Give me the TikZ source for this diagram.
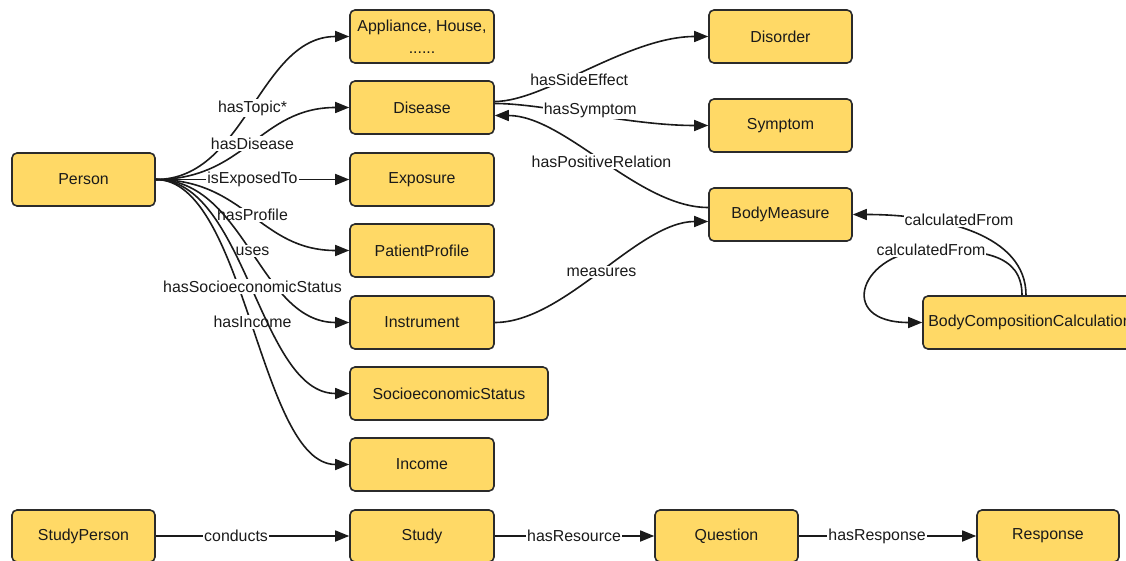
\documentclass[tikz,border=0pt]{standalone}
\usepackage{fontspec}
\setmainfont{Liberation Sans}
\usetikzlibrary{arrows.meta,calc}
\definecolor{boxfill}{HTML}{FFD966}
\definecolor{boxline}{HTML}{2B2B2B}
\definecolor{ink}{HTML}{1A1A1A}

\begin{document}
\begin{tikzpicture}[x=1pt,y=-1pt,
  every node/.style={font=\fontsize{15.9}{20}\selectfont, text=ink},
  entity/.style={draw=boxline, fill=boxfill, line width=1.6pt, rounded corners=5pt,
    minimum width=143pt, minimum height=53pt, inner sep=0pt},
  rel/.style={draw=ink, line width=1.6pt, -{Triangle[length=14pt,width=11pt]}},
  lbl/.style={fill=white, inner xsep=1pt, inner ysep=1.5pt}
]
\clip (0,0) rectangle (1126,561);
\fill[white] (0,0) rectangle (1126,561);

% ---------- entities ----------
\node[entity] (person) at (83.5,179.5) {Person};
\node[entity, minimum width=144pt, align=center] (topic) at (422,36.5) {Appliance, House,\\[2pt]......};
\node[entity, minimum width=144pt] (disease) at (422,107.5) {Disease};
\node[entity, minimum width=144pt] (exposure) at (422,179.5) {Exposure};
\node[entity, minimum width=144pt] (profile) at (422,250.5) {PatientProfile};
\node[entity, minimum width=144pt] (instrument) at (422,322.5) {Instrument};
\node[entity, minimum width=198pt] (ses) at (449,393.5) {SocioeconomicStatus};
\node[entity, minimum width=144pt] (income) at (422,464.5) {Income};

\node[entity] (disorder) at (780.5,36.5) {Disorder};
\node[entity] (symptom) at (780.5,125.5) {Symptom};
\node[entity] (bodym) at (780.5,214.5) {BodyMeasure};
\node[entity, minimum width=214pt] (bcc) at (1030,322.5) {BodyCompositionCalculation};

\node[entity, minimum height=52pt] (studyp) at (83.5,536) {StudyPerson};
\node[entity, minimum width=144pt, minimum height=52pt] (study) at (422,536) {Study};
\node[entity, minimum height=52pt] (question) at (726.5,536) {Question};
\node[entity, minimum width=142pt, minimum height=52pt] (response) at (1048,536) {Response};

% ---------- relations of a person ----------
\draw[rel] (person.east) .. controls +(90,0) and +(-90,0) .. (topic.west)
  node[lbl,pos=0.5] {hasTopic*};
\draw[rel] (person.east) .. controls +(90,0) and +(-90,0) .. (disease.west)
  node[lbl,pos=0.5] {hasDisease};
\draw[rel] (person.east) -- (exposure.west)
  node[lbl,pos=0.5] {isExposedTo};
\draw[rel] (person.east) .. controls +(90,0) and +(-90,0) .. (profile.west)
  node[lbl,pos=0.5] {hasProfile};
\draw[rel] (person.east) .. controls +(90,0) and +(-90,0) .. (instrument.west)
  node[lbl,pos=0.5] {uses};
\draw[rel] (person.east) .. controls +(90,0) and +(-90,0) .. (income.west)
  node[lbl,pos=0.5] {hasIncome};
\draw[rel] (person.east) .. controls +(90,0) and +(-90,0) .. (ses.west)
  node[lbl,pos=0.5] {hasSocioeconomicStatus};

% ---------- disease and body measures ----------
\draw[rel] ($(disease.east)+(0,-6)$) .. controls +(50,0) and +(-80,0) .. (disorder.west)
  node[lbl,pos=0.45,yshift=-6pt] {hasSideEffect};
\draw[rel] ($(disease.east)+(0,-4)$) .. controls +(50,0) and +(-80,0) .. (symptom.west)
  node[lbl,pos=0.5,yshift=4.5pt] {hasSymptom};
\draw[rel] ($(bodym.west)+(0,-7)$) .. controls +(-70,0) and +(70,0) .. ($(disease.east)+(0,8)$)
  node[lbl,pos=0.5] {hasPositiveRelation};
\draw[rel] (instrument.east) .. controls +(70,0) and +(-70,0) .. ($(bodym.west)+(0,7)$)
  node[lbl,pos=0.5] {measures};

% ---------- body composition ----------
\draw[rel] ($(bcc.north)+(-4,0)$) .. controls +(0,-60) and +(90,0) .. (bodym.east)
  node[lbl,pos=0.57,yshift=8pt] {calculatedFrom};
\coordinate (looptop) at (931,250);
\draw[rel] ($(bcc.north)+(-8,0)$) .. controls +(0,-42) and +(50,0) .. (looptop)
  .. controls +(-70,0) and +(-88,0) .. (bcc.west);
\node[lbl] (looplabel) at (looptop) {calculatedFrom};

% ---------- study chain ----------
\draw[rel] (studyp.east) -- (study.west) node[lbl,pos=0.415] {conducts};
\draw[rel] (study.east) -- (question.west) node[lbl,pos=0.497] {hasResource};
\draw[rel] (question.east) -- (response.west) node[lbl,pos=0.441] {hasResponse};
\end{tikzpicture}
\end{document}
